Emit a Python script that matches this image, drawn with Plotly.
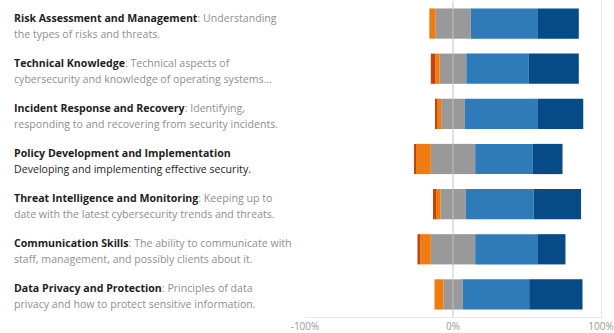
import plotly.graph_objects as go

categories = [
    "Risk Assessment and Management",
    "Technical Knowledge",
    "Incident Response and Recovery",
    "Policy Development and Implementation",
    "Threat Intelligence and Monitoring",
    "Communication Skills",
    "Data Privacy and Protection",
]
desc_line1 = [
    ": Understanding",
    ": Technical aspects of",
    ": Identifying,",
    "",
    ": Keeping up to",
    ": The ability to communicate with",
    ": Principles of data",
]
desc_line2 = [
    "the types of risks and threats.",
    "cybersecurity and knowledge of operating systems...",
    "responding to and recovering from security incidents.",
    "Developing and implementing effective security.",
    "date with the latest cybersecurity trends and threats.",
    "staff, management, and possibly clients about it.",
    "privacy and how to protect sensitive information.",
]

strongly_disagree = [0, 3, 1, 1, 2, 2, 0]
disagree = [4, 3, 3, 10, 3, 7, 6]
neutral = [24, 18, 16, 30, 17, 30, 13]
agree = [45, 42, 49, 39, 46, 42, 45]
strongly_agree = [28, 34, 31, 20, 32, 19, 36]

tick_vals = [-100, 0, 100]
tick_text = ["-100%", "0%", "100%"]

colors = {
    "sd": "#c4420b",
    "d": "#f07c0f",
    "n": "#999999",
    "a": "#2f7ab8",
    "sa": "#064a88",
}

fig = go.Figure()
half_neutral = [v / 2 for v in neutral]

def add(vals, color, name, sign):
    fig.add_trace(go.Bar(
        y=categories, x=[sign * v for v in vals], orientation="h",
        marker=dict(color=color, line=dict(width=0)), name=name,
        showlegend=False, hoverinfo="skip",
    ))

add(half_neutral, colors["n"], "Neutral", -1)
add(disagree, colors["d"], "Disagree", -1)
add(strongly_disagree, colors["sd"], "Strongly disagree", -1)
add(half_neutral, colors["n"], "Neutral", 1)
add(agree, colors["a"], "Agree", 1)
add(strongly_agree, colors["sa"], "Strongly agree", 1)

L, R, T, B = 305, 13, 1, 16
W, H = 614, 333
plot_w = W - L - R
xpaper = (12 - L) / plot_w
FS = 10.6

annotations = []
for cat, d1, d2 in zip(categories, desc_line1, desc_line2):
    annotations.append(dict(
        xref="paper", yref="y", x=xpaper, y=cat, xanchor="left", yanchor="middle",
        text=f"<b>{cat}</b><span style='color:#8f8f8f'>{d1}</span>",
        showarrow=False, align="left", yshift=6,
        font=dict(family="Open Sans", size=FS, color="#1e1e1e"),
    ))
    annotations.append(dict(
        xref="paper", yref="y", x=xpaper, y=cat, xanchor="left", yanchor="middle",
        text=d2, showarrow=False, align="left", yshift=-10,
        font=dict(family="Open Sans", size=FS,
                  color="#1e1e1e" if d1 == "" else "#8f8f8f"),
    ))

fig.update_layout(
    width=W, height=H,
    margin=dict(l=L, r=R, t=T, b=B, pad=0),
    barmode="relative", bargap=0.33,
    plot_bgcolor="white", paper_bgcolor="white",
    annotations=annotations,
    font=dict(family="Open Sans"),
    shapes=[dict(type="line", xref="x", yref="paper", x0=0, x1=0, y0=0, y1=1,
                 line=dict(color="#c4c4c4", width=1), layer="above")],
)
fig.update_xaxes(
    range=[-100, 100], tickvals=tick_vals, ticktext=tick_text,
    showgrid=False, zeroline=False,
    showline=True, linecolor="#e6e6e6", linewidth=1,
    tickfont=dict(size=10, color="#999999"),
    ticks="", fixedrange=True,
)
fig.update_yaxes(
    autorange="reversed", showticklabels=False, showgrid=False,
    side="right", showline=True, linecolor="#e6e6e6", linewidth=1, ticks="",
)

fig.write_html("out.html")
